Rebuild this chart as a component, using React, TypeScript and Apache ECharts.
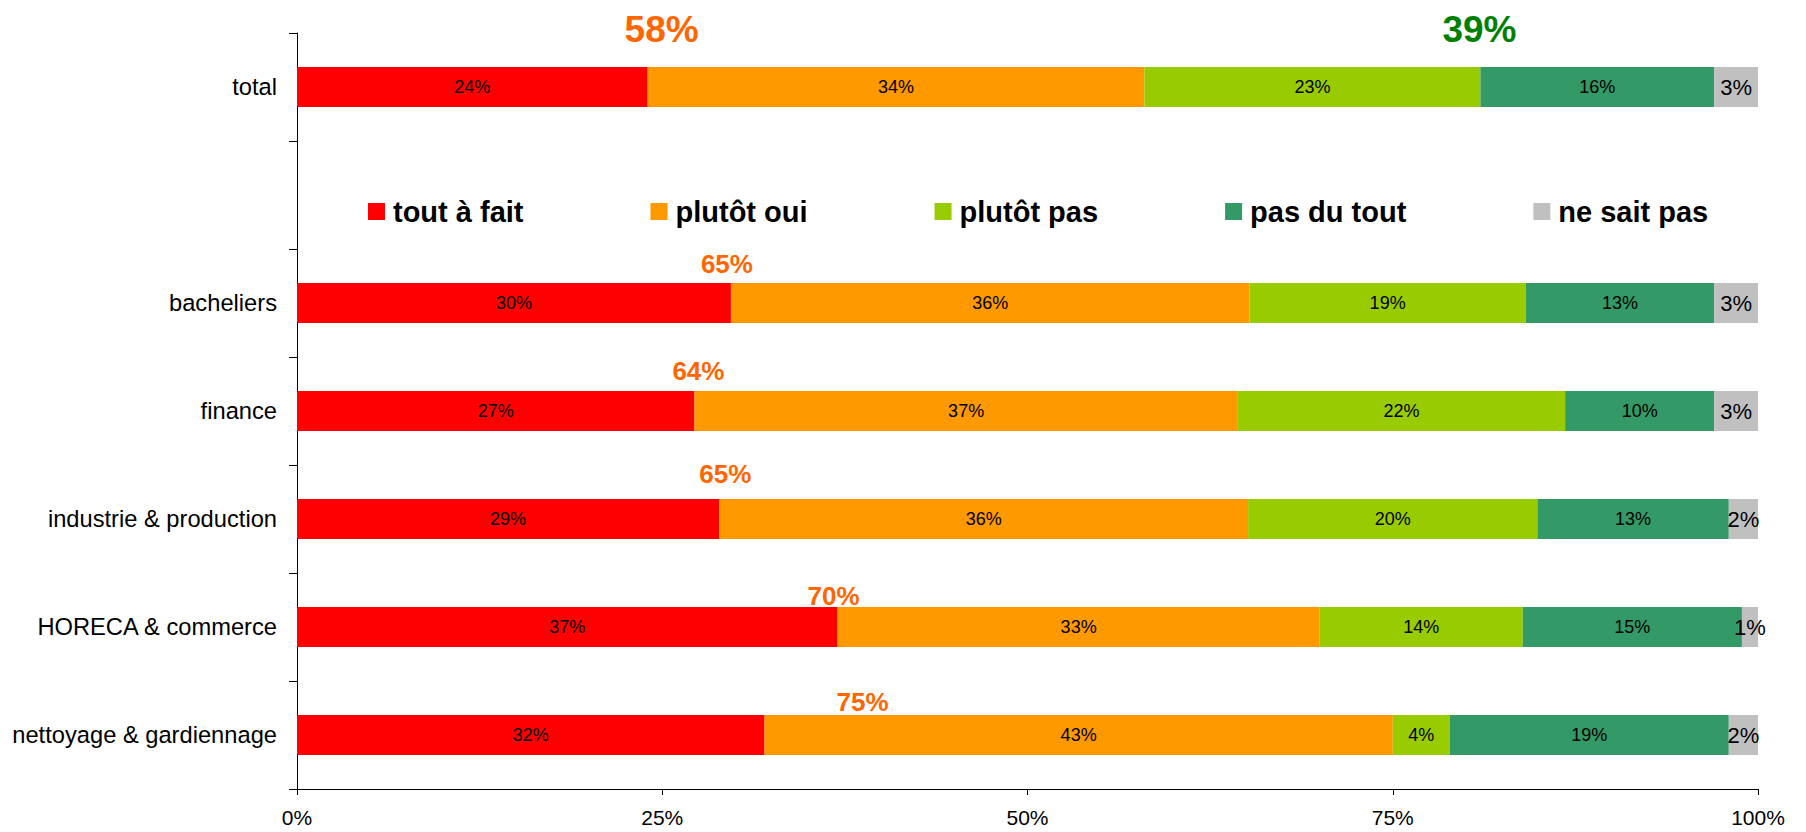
import React, { useEffect, useRef } from "react";
import * as echarts from "echarts";

const categories = [
  "total",
  "",
  "bacheliers",
  "finance",
  "industrie & production",
  "HORECA & commerce",
  "nettoyage & gardiennage",
];

const seriesNames = ["tout à fait", "plutôt oui", "plutôt pas", "pas du tout", "ne sait pas"];

const toutAFait = [24, null, 29.7, 27.2, 28.9, 37.0, 32.0];
const plutotOui = [34, null, 35.5, 37.2, 36.2, 33.0, 43.0];
const plutotPas = [23, null, 18.9, 22.4, 19.8, 13.9, 3.9];
const pasDuTout = [16, null, 12.9, 10.2, 13.1, 15.0, 19.1];
const neSaitPas = [3, null, 3.0, 3.0, 2.0, 1.1, 2.0];

// annotated totals
const favorableTotals = [58, null, 65, 64, 65, 70, 75];
const unfavorableTotal = 39;

const xTicks = [0, 25, 50, 75, 100];

const colors = ["#FF0000", "#FF9900", "#99CC00", "#339966", "#C0C0C0"];
const FONT = "'Liberation Sans', Arial, Helvetica, sans-serif";

// label offsets (style) for the favorable annotations, per category
const favOffsets: Record<number, [number, number]> = {
  0: [14, -58],
  2: [-4, -39],
  3: [4, -40],
  4: [6, -45],
  5: [-4, -31],
  6: [98, -33],
};

export default function App() {
  const ref = useRef<HTMLDivElement>(null);

  useEffect(() => {
    if (!ref.current) return;
    const chart = echarts.init(ref.current, undefined, { renderer: "svg" });

    const valueSets = [toutAFait, plutotOui, plutotPas, pasDuTout, neSaitPas];

    const barSeries = valueSets.map((vals, i) => ({
      name: seriesNames[i],
      type: "bar",
      stack: "all",
      barWidth: 40,
      itemStyle: { color: colors[i] },
      label: {
        show: true,
        position: "inside",
        color: "#000",
        fontFamily: FONT,
        fontSize: i === 4 ? 22 : 18,
        formatter: (p: any) => (p.value == null ? "" : Math.round(p.value) + "%"),
      },
      emphasis: { disabled: true },
      data: vals,
    }));

    const favData: any[] = [];
    favorableTotals.forEach((v, idx) => {
      if (v == null) return;
      const big = idx === 0;
      favData.push({
        value: [toutAFait[idx], categories[idx]],
        label: {
          show: true,
          position: "inside",
          offset: favOffsets[idx],
          formatter: v + "%",
          color: "#FF6600",
          opacity: 1,
          fontWeight: "bold",
          fontFamily: FONT,
          fontSize: big ? 37 : 26,
        },
      });
    });
    favData.push({
      value: [(toutAFait[0] as number) + (plutotOui[0] as number) + (plutotPas[0] as number), categories[0]],
      label: {
        show: true,
        position: "inside",
        offset: [-1, -58],
        formatter: unfavorableTotal + "%",
        color: "#008000",
        opacity: 1,
        fontWeight: "bold",
        fontFamily: FONT,
        fontSize: 37,
      },
    });

    chart.setOption({
      animation: false,
      textStyle: { fontFamily: FONT },
      grid: { left: 297, right: 48, top: 33, bottom: 43, containLabel: false },
      legend: {
        data: seriesNames,
        left: 363,
        top: 192,
        icon: "rect",
        itemWidth: 17,
        itemHeight: 17,
        itemGap: 127,
        selectedMode: false,
        textStyle: {
          fontSize: 29,
          fontWeight: "bold",
          color: "#000",
          fontFamily: FONT,
          padding: [0, 0, 0, 3],
        },
      },
      xAxis: {
        type: "value",
        min: xTicks[0],
        max: xTicks[xTicks.length - 1],
        interval: 25,
        axisLine: { show: true, lineStyle: { color: "#000", width: 1 } },
        axisTick: { show: true, length: 6, lineStyle: { color: "#000" } },
        splitLine: { show: false },
        axisLabel: {
          color: "#000",
          fontSize: 21,
          margin: 18,
          fontFamily: FONT,
          formatter: "{value}%",
        },
      },
      yAxis: {
        type: "category",
        inverse: true,
        data: categories,
        axisLine: { show: true, lineStyle: { color: "#000", width: 1 } },
        axisTick: { show: true, length: 8, alignWithLabel: false, lineStyle: { color: "#000" } },
        splitLine: { show: false },
        axisLabel: { color: "#000", fontSize: 23.7, margin: 20, fontFamily: FONT },
      },
      series: [
        ...barSeries,
        {
          name: "annotations",
          type: "scatter",
          symbolSize: 0,
          silent: true,
          z: 10,
          itemStyle: { opacity: 1 },
          emphasis: { disabled: true },
          data: favData,
        },
      ],
    });

    return () => chart.dispose();
  }, []);

  return (
    <div
      ref={ref}
      style={{ position: "absolute", left: 0, top: 0, width: 1806, height: 832 }}
    />
  );
}
